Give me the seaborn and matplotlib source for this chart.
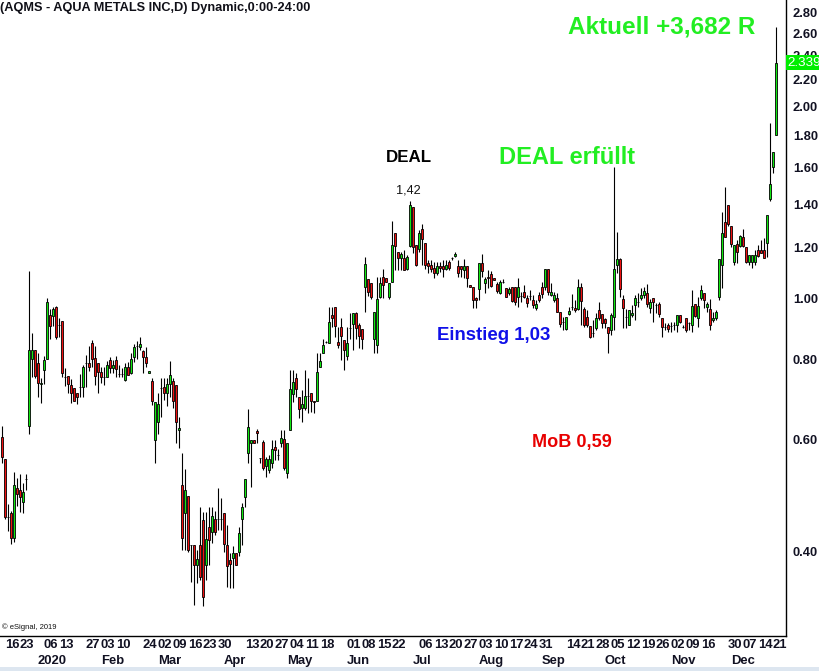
import numpy as np
import pandas as pd
import seaborn as sns
import matplotlib
matplotlib.use("Agg")
import matplotlib.pyplot as plt
from matplotlib.transforms import blended_transform_factory
from matplotlib.ticker import NullLocator
from matplotlib.patches import Rectangle

sns.set_style("white")
plt.rcParams["font.family"] = ["Liberation Sans", "DejaVu Sans"]

# ---- data (daily candles) ----
start_date = "2019-12-13"
end_date = "2020-12-22"
holidays = ["2019-12-25", "2020-01-01", "2020-01-20", "2020-02-17", "2020-04-10",
            "2020-05-25", "2020-07-03", "2020-09-07", "2020-11-26"]

opens = [
    0.606, 0.559, 0.454, 0.460, 0.420, 0.504, 0.500, 0.479, 0.520, 0.630,
    0.802, 0.829, 0.791, 0.733, 0.771, 0.802, 0.941, 0.937, 0.968, 0.907,
    0.920, 0.752, 0.755, 0.730, 0.722, 0.709, 0.725, 0.725, 0.791, 0.791,
    0.850, 0.805, 0.791, 0.766, 0.752, 0.752, 0.799, 0.777, 0.799, 0.760,
    0.760, 0.744, 0.779, 0.763, 0.808, 0.841, 0.838, 0.826, 0.808, 0.763,
    0.741, 0.599, 0.639, 0.722, 0.725, 0.709, 0.733, 0.741, 0.730, 0.621,
    0.509, 0.460, 0.489, 0.410, 0.410, 0.381, 0.410, 0.449, 0.381, 0.438,
    0.430, 0.451, 0.451, 0.451, 0.460, 0.410, 0.388, 0.391, 0.398, 0.400,
    0.451, 0.487, 0.572, 0.593, 0.599, 0.619, 0.561, 0.595, 0.545, 0.537,
    0.551, 0.584, 0.567, 0.593, 0.602, 0.531, 0.621, 0.707, 0.749, 0.699,
    0.672, 0.672, 0.702, 0.709, 0.690, 0.690, 0.779, 0.820, 0.853, 0.850,
    0.941, 0.968, 0.853, 0.901, 0.859, 0.811, 0.897, 0.911, 0.947, 0.907,
    0.894, 1.040, 1.071, 1.056, 0.862, 0.844, 1.004, 1.079, 1.075, 1.004,
    1.059, 1.264, 1.181, 1.155, 1.155, 1.110, 1.206, 1.389, 1.211, 1.193,
    1.283, 1.220, 1.135, 1.126, 1.114, 1.094, 1.122, 1.122, 1.110, 1.139,
    1.155, 1.164, 1.122, 1.122, 1.106, 1.122, 1.048, 1.040, 1.000, 1.033,
    1.135, 1.056, 1.079, 1.090, 1.075, 1.052, 1.018, 1.059, 1.037, 1.018,
    1.040, 1.040, 1.004, 1.007, 1.022, 1.000, 1.007, 0.993, 0.965, 1.011,
    1.040, 1.040, 1.110, 1.011, 0.993, 1.000, 0.951, 0.917, 0.894, 0.944,
    0.968, 0.965, 0.961, 1.040, 0.961, 0.934, 0.904, 0.881, 0.897, 0.958,
    0.944, 0.927, 0.901, 0.891, 0.934, 1.126, 1.151, 0.996, 0.934, 0.907,
    0.941, 0.975, 0.986, 1.000, 1.011, 1.018, 0.965, 1.000, 0.975, 0.979,
    0.931, 0.901, 0.907, 0.904, 0.907, 0.907, 0.941, 0.901, 0.931, 0.914,
    0.907, 0.979, 0.931, 1.000, 1.018, 0.968, 0.961, 0.924, 0.931, 1.004,
    1.126, 1.316, 1.399, 1.297, 1.139, 1.215, 1.206, 1.246, 1.202, 1.139,
    1.139, 1.139, 1.189, 1.189, 1.189, 1.220, 1.430, 1.605, 1.801,
]
highs = [
    0.630, 0.559, 0.475, 0.463, 0.533, 0.522, 0.529, 0.513, 0.529, 1.102,
    0.881, 0.829, 0.820, 0.749, 0.811, 1.000, 0.961, 0.968, 0.972, 0.931,
    0.920, 0.777, 0.755, 0.746, 0.722, 0.709, 0.760, 0.785, 0.814, 0.841,
    0.859, 0.841, 0.791, 0.779, 0.779, 0.796, 0.808, 0.799, 0.811, 0.785,
    0.777, 0.791, 0.794, 0.820, 0.847, 0.856, 0.869, 0.829, 0.838, 0.768,
    0.749, 0.687, 0.709, 0.749, 0.749, 0.749, 0.796, 0.749, 0.730, 0.651,
    0.572, 0.539, 0.489, 0.410, 0.410, 0.403, 0.470, 0.462, 0.462, 0.470,
    0.470, 0.463, 0.504, 0.486, 0.460, 0.440, 0.398, 0.409, 0.398, 0.438,
    0.477, 0.520, 0.670, 0.599, 0.599, 0.623, 0.561, 0.599, 0.563, 0.567,
    0.599, 0.599, 0.580, 0.621, 0.621, 0.593, 0.771, 0.771, 0.763, 0.699,
    0.717, 0.771, 0.749, 0.709, 0.690, 0.820, 0.820, 0.862, 0.856, 0.968,
    0.968, 0.968, 0.901, 0.931, 0.859, 0.901, 0.947, 0.947, 0.951, 0.914,
    0.894, 1.159, 1.071, 1.056, 0.951, 1.079, 1.079, 1.110, 1.075, 1.056,
    1.320, 1.264, 1.181, 1.181, 1.189, 1.168, 1.420, 1.389, 1.211, 1.278,
    1.306, 1.220, 1.147, 1.147, 1.139, 1.139, 1.139, 1.147, 1.147, 1.147,
    1.159, 1.181, 1.147, 1.122, 1.151, 1.122, 1.048, 1.040, 1.004, 1.135,
    1.172, 1.079, 1.106, 1.102, 1.075, 1.059, 1.067, 1.071, 1.037, 1.040,
    1.040, 1.040, 1.075, 1.022, 1.048, 1.011, 1.029, 1.011, 0.993, 1.022,
    1.059, 1.110, 1.110, 1.056, 1.022, 1.018, 0.951, 0.934, 0.934, 0.968,
    1.015, 0.993, 1.071, 1.056, 0.968, 0.958, 0.904, 0.924, 0.947, 0.986,
    0.944, 0.931, 0.901, 0.947, 1.605, 1.269, 1.155, 1.011, 0.961, 0.958,
    0.975, 1.011, 1.018, 1.037, 1.040, 1.052, 0.996, 1.000, 0.982, 0.986,
    0.931, 0.914, 0.914, 0.917, 0.917, 0.941, 0.941, 0.907, 0.931, 0.917,
    1.029, 0.979, 1.004, 1.048, 1.018, 0.986, 0.996, 0.951, 0.958, 1.151,
    1.364, 1.493, 1.399, 1.297, 1.211, 1.233, 1.255, 1.283, 1.202, 1.168,
    1.168, 1.189, 1.211, 1.233, 1.242, 1.349, 1.881, 1.694, 2.660,
]
lows = [
    0.551, 0.451, 0.431, 0.411, 0.414, 0.472, 0.462, 0.460, 0.500, 0.612,
    0.752, 0.749, 0.699, 0.685, 0.733, 0.802, 0.862, 0.904, 0.862, 0.869,
    0.752, 0.728, 0.709, 0.685, 0.690, 0.682, 0.699, 0.699, 0.725, 0.768,
    0.779, 0.730, 0.709, 0.736, 0.730, 0.752, 0.763, 0.763, 0.752, 0.752,
    0.752, 0.741, 0.757, 0.760, 0.794, 0.802, 0.829, 0.763, 0.779, 0.763,
    0.680, 0.551, 0.612, 0.651, 0.692, 0.677, 0.699, 0.672, 0.593, 0.582,
    0.403, 0.403, 0.400, 0.359, 0.330, 0.357, 0.361, 0.329, 0.361, 0.381,
    0.413, 0.425, 0.433, 0.433, 0.400, 0.352, 0.351, 0.351, 0.381, 0.394,
    0.410, 0.470, 0.551, 0.505, 0.593, 0.593, 0.551, 0.537, 0.524, 0.531,
    0.541, 0.557, 0.557, 0.584, 0.537, 0.522, 0.621, 0.687, 0.699, 0.648,
    0.639, 0.667, 0.660, 0.662, 0.660, 0.690, 0.779, 0.820, 0.850, 0.850,
    0.901, 0.869, 0.835, 0.799, 0.771, 0.799, 0.862, 0.829, 0.862, 0.835,
    0.832, 0.951, 1.007, 0.996, 0.820, 0.820, 1.000, 1.000, 1.059, 0.996,
    1.059, 1.106, 1.106, 1.106, 1.106, 1.106, 1.202, 1.176, 1.122, 1.181,
    1.126, 1.110, 1.094, 1.098, 1.075, 1.087, 1.098, 1.079, 1.106, 1.106,
    1.147, 1.159, 1.079, 1.079, 1.075, 1.040, 1.040, 0.965, 0.965, 0.993,
    1.079, 1.018, 1.037, 1.040, 1.067, 1.018, 1.015, 1.056, 1.004, 1.011,
    0.986, 0.975, 0.968, 0.986, 1.000, 0.968, 0.993, 0.965, 0.958, 0.986,
    1.000, 1.029, 1.011, 1.007, 0.986, 0.951, 0.901, 0.891, 0.891, 0.941,
    0.958, 0.951, 0.958, 0.907, 0.901, 0.901, 0.866, 0.869, 0.891, 0.924,
    0.897, 0.897, 0.820, 0.875, 0.891, 1.094, 1.004, 0.897, 0.897, 0.907,
    0.934, 0.924, 0.968, 0.993, 1.000, 0.968, 0.947, 0.917, 0.947, 0.934,
    0.869, 0.891, 0.884, 0.884, 0.891, 0.884, 0.914, 0.897, 0.884, 0.891,
    0.884, 0.934, 0.901, 0.993, 0.965, 0.951, 0.891, 0.917, 0.924, 0.993,
    1.037, 1.246, 1.297, 1.202, 1.126, 1.135, 1.202, 1.202, 1.135, 1.126,
    1.114, 1.126, 1.159, 1.176, 1.155, 1.159, 1.420, 1.570, 1.801,
]
closes = [
    0.563, 0.454, 0.454, 0.420, 0.509, 0.493, 0.487, 0.496, 0.520, 0.829,
    0.829, 0.755, 0.736, 0.736, 0.799, 0.986, 0.904, 0.961, 0.869, 0.907,
    0.763, 0.752, 0.733, 0.709, 0.690, 0.699, 0.725, 0.779, 0.791, 0.779,
    0.802, 0.755, 0.766, 0.752, 0.752, 0.785, 0.777, 0.785, 0.774, 0.760,
    0.760, 0.779, 0.757, 0.802, 0.838, 0.841, 0.847, 0.808, 0.791, 0.768,
    0.690, 0.687, 0.682, 0.722, 0.709, 0.733, 0.757, 0.690, 0.639, 0.626,
    0.420, 0.500, 0.403, 0.410, 0.381, 0.390, 0.365, 0.340, 0.419, 0.417,
    0.455, 0.430, 0.451, 0.451, 0.411, 0.380, 0.383, 0.398, 0.381, 0.428,
    0.470, 0.520, 0.628, 0.599, 0.593, 0.614, 0.561, 0.541, 0.559, 0.559,
    0.580, 0.578, 0.567, 0.604, 0.541, 0.593, 0.720, 0.738, 0.720, 0.670,
    0.682, 0.702, 0.702, 0.690, 0.687, 0.766, 0.796, 0.844, 0.853, 0.917,
    0.931, 0.904, 0.844, 0.872, 0.829, 0.850, 0.897, 0.947, 0.897, 0.872,
    0.862, 1.130, 1.022, 1.004, 0.951, 0.996, 1.056, 1.048, 1.059, 1.056,
    1.211, 1.206, 1.155, 1.172, 1.106, 1.159, 1.399, 1.202, 1.126, 1.264,
    1.237, 1.126, 1.122, 1.110, 1.094, 1.122, 1.114, 1.110, 1.126, 1.114,
    1.155, 1.172, 1.094, 1.110, 1.122, 1.075, 1.040, 0.993, 0.993, 1.135,
    1.102, 1.071, 1.075, 1.044, 1.067, 1.026, 1.059, 1.059, 1.004, 1.033,
    0.989, 0.986, 1.040, 1.007, 1.004, 0.982, 1.007, 0.975, 0.979, 0.993,
    1.015, 1.110, 1.022, 1.022, 1.011, 0.951, 0.911, 0.917, 0.934, 0.954,
    0.968, 0.958, 1.040, 0.989, 0.907, 0.907, 0.869, 0.881, 0.931, 0.931,
    0.914, 0.914, 0.881, 0.941, 1.110, 1.151, 1.033, 0.965, 0.934, 0.958,
    0.947, 1.000, 0.986, 1.011, 1.026, 0.979, 0.986, 0.986, 0.975, 0.944,
    0.901, 0.901, 0.894, 0.904, 0.907, 0.941, 0.917, 0.901, 0.891, 0.914,
    0.972, 0.937, 0.972, 1.029, 0.993, 0.979, 0.907, 0.931, 0.951, 1.151,
    1.264, 1.246, 1.306, 1.215, 1.211, 1.181, 1.251, 1.206, 1.139, 1.168,
    1.168, 1.168, 1.164, 1.176, 1.155, 1.349, 1.509, 1.694, 2.339,
]

day_ticks = ["2019-12-16", "2019-12-23", "2020-01-06", "2020-01-13", "2020-01-27",
             "2020-02-03", "2020-02-10", "2020-02-24", "2020-03-02", "2020-03-09",
             "2020-03-16", "2020-03-23", "2020-03-30", "2020-04-13", "2020-04-20",
             "2020-04-27", "2020-05-04", "2020-05-11", "2020-05-18", "2020-06-01",
             "2020-06-08", "2020-06-15", "2020-06-22", "2020-07-06", "2020-07-13",
             "2020-07-20", "2020-07-27", "2020-08-03", "2020-08-10", "2020-08-17",
             "2020-08-24", "2020-08-31", "2020-09-14", "2020-09-21", "2020-09-28",
             "2020-10-05", "2020-10-12", "2020-10-19", "2020-10-26", "2020-11-02",
             "2020-11-09", "2020-11-16", "2020-11-30", "2020-12-07", "2020-12-14",
             "2020-12-21"]
month_starts = ["2020-01-02", "2020-02-03", "2020-03-02", "2020-04-01", "2020-05-01",
                "2020-06-01", "2020-07-01", "2020-08-03", "2020-09-01", "2020-10-01",
                "2020-11-02", "2020-12-01"]
month_names = ["2020", "Feb", "Mar", "Apr", "May", "Jun", "Jul", "Aug", "Sep", "Oct",
               "Nov", "Dec"]
price_ticks = [0.40, 0.60, 0.80, 1.00, 1.20, 1.40, 1.60, 1.80, 2.00, 2.20, 2.40, 2.60, 2.80]
last_price = 2.339

# ---- build frame ----
days = pd.bdate_range(start_date, end_date)
days = days[~days.isin(pd.to_datetime(holidays))]
df = pd.DataFrame({"date": days, "open": opens, "high": highs, "low": lows, "close": closes})
df["x"] = np.arange(len(df))
pos = {d: i for i, d in enumerate(df["date"])}

GREEN = "#11e811"
RED = "#ee1111"
INK = "#111122"

fig = plt.figure(figsize=(8.2, 6.71), dpi=100)
ax = fig.add_axes([0, 1 - 636 / 671, 786 / 820, 636 / 671])
ax.set_yscale("log")

# wicks
top = df[["open", "close", "high"]].max(axis=1)
bot = df[["open", "close", "low"]].min(axis=1)
ax.vlines(df["x"], bot, top, color="black", linewidth=0.8, zorder=2)

# bodies
body_lo = df[["open", "close"]].min(axis=1)
body_hi = df[["open", "close"]].max(axis=1)
colors = np.where(df["close"] > df["open"], GREEN,
                  np.where(df["close"] < df["open"], RED, "black"))
ax.bar(df["x"], body_hi - body_lo, bottom=body_lo, width=0.72, color=colors,
       edgecolor="black", linewidth=0.6, zorder=3)

ax.set_xlim(-0.57, 261.4)
ax.set_ylim(0.2952, 2.933)

# y axis on the right
ax.yaxis.tick_right()
ax.set_yticks(price_ticks, labels=[f"{v:.2f}" for v in price_ticks])
ax.yaxis.set_minor_locator(NullLocator())
ax.tick_params(axis="y", length=0, pad=5, labelsize=9.3, labelcolor=INK)
for lbl in ax.get_yticklabels():
    lbl.set_fontweight("bold")

# x axis: day numbers + month names
ax.set_xticks([pos[pd.Timestamp(d)] for d in day_ticks])
ax.set_xticklabels([pd.Timestamp(d).strftime("%d") for d in day_ticks],
                   ha="left", fontweight="bold", fontsize=9.4, color=INK)
ax.tick_params(axis="x", length=0, pad=2)
trans_x = blended_transform_factory(ax.transData, ax.transAxes)
for d, name in zip(month_starts, month_names):
    ax.text(pos[pd.Timestamp(d)], -0.0393, name, transform=trans_x, ha="left",
            va="center", fontweight="bold", fontsize=9.4, color=INK, clip_on=False)

for side in ["left", "top"]:
    ax.spines[side].set_visible(False)
for side in ["right", "bottom"]:
    ax.spines[side].set_color("black")
    ax.spines[side].set_linewidth(1.0)
ax.grid(False)

# last price box
trans_y = blended_transform_factory(ax.transAxes, ax.transData)
ax.text(1.002, last_price, f"{last_price:.3f}", transform=trans_y, ha="left", va="center",
        fontsize=9.6, color="white", clip_on=False, zorder=6,
        bbox=dict(boxstyle="square,pad=0.1", facecolor="#00ee00", edgecolor="none"))

# annotations
fig.text(0.0, 1 - 8 / 671, "(AQMS - AQUA METALS INC,D) Dynamic,0:00-24:00",
         ha="left", va="center", fontsize=9.2, fontweight="bold", color="#101018")
ax.text(0.003, 0.014, "© eSignal, 2019", transform=ax.transAxes, ha="left", va="center",
        fontsize=5.5, color="#111111")
ax.text(0.842, 0.958, "Aktuell +3,682 R", transform=ax.transAxes, ha="center", va="center",
        fontsize=17.5, fontweight="bold", color="#22ee22")
ax.text(0.520, 0.752, "DEAL", transform=ax.transAxes, ha="center", va="center",
        fontsize=12.2, fontweight="bold", color="black")
ax.text(0.520, 0.701, "1,42", transform=ax.transAxes, ha="center", va="center",
        fontsize=9.2, color="#111111")
ax.text(0.721, 0.753, "DEAL erfüllt", transform=ax.transAxes, ha="center", va="center",
        fontsize=17, fontweight="bold", color="#22ee22")
ax.text(0.628, 0.473, "Einstieg 1,03", transform=ax.transAxes, ha="center", va="center",
        fontsize=13.4, fontweight="bold", color="#1010e8")
ax.text(0.728, 0.305, "MoB 0,59", transform=ax.transAxes, ha="center", va="center",
        fontsize=13.1, fontweight="bold", color="#e80000")

fig.patches.append(Rectangle((0, 0), 1, 4 / 671, transform=fig.transFigure,
                             facecolor="#dde6f0", edgecolor="none"))

fig.savefig("out.png", dpi=100)
plt.close(fig)
